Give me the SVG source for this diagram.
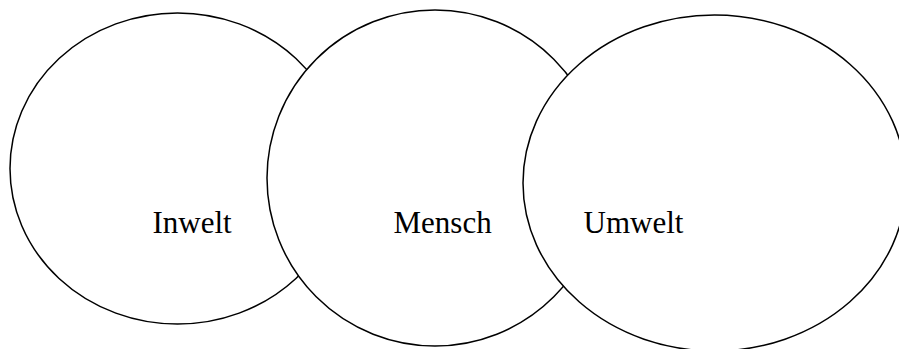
<svg xmlns="http://www.w3.org/2000/svg" width="899" height="349" viewBox="0 0 899 349">
<style>
.shape{fill:#fff;stroke:#000;stroke-width:1.5}
.label{font-family:"Liberation Serif","Times New Roman",serif;font-size:31px;fill:#000}
</style>
<rect width="899" height="349" fill="#fff"/>
<g id="inwelt">
<ellipse class="shape" cx="177.5" cy="168.5" rx="167.5" ry="155.5"/>
<text class="label" x="152.5" y="233">Inwelt</text>
</g>
<g id="mensch">
<ellipse class="shape" cx="435" cy="178" rx="168" ry="168"/>
<text class="label" x="393.5" y="233">Mensch</text>
</g>
<g id="umwelt">
<ellipse class="shape" cx="714.5" cy="183" rx="191.5" ry="168"/>
<text class="label" x="583.5" y="233">Umwelt</text>
</g>
<g id="connectors"/>
</svg>
